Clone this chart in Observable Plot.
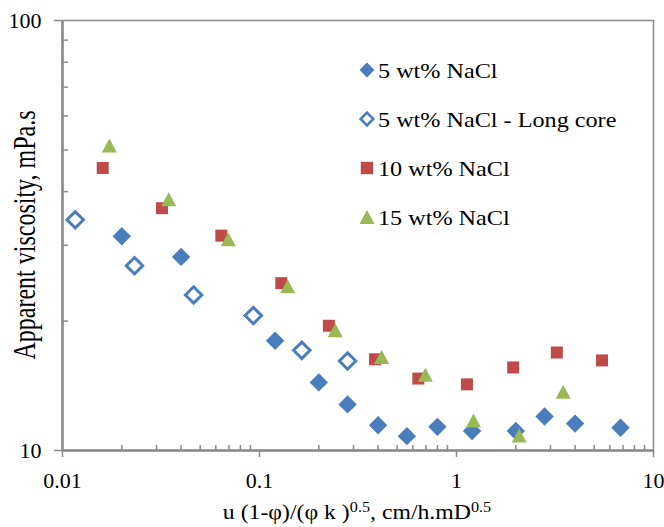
<!DOCTYPE html>
<html><head><meta charset="utf-8">
<script src="https://cdn.jsdelivr.net/npm/d3@7"></script>
<script src="https://cdn.jsdelivr.net/npm/@observablehq/plot@0.6"></script>
<style>
body{margin:0;background:#fff}
svg{font-family:"Liberation Serif","Times New Roman",serif}
</style>
</head><body><div id="chart"></div>
<script>
// ---- data ----
const x5 = [0.02, 0.04, 0.12, 0.2, 0.28, 0.4, 0.56, 0.8, 1.2, 2.0, 2.8, 4.0, 6.8];
const y5 = [31.5, 28.2, 18.0, 14.4, 12.8, 11.45, 10.8, 11.35, 11.1, 11.1, 12.0, 11.55, 11.3];
const xLong = [0.0116, 0.0232, 0.0463, 0.093, 0.164, 0.28];
const yLong = [34.4, 26.9, 23.0, 20.6, 17.1, 16.15];
const x10 = [0.016, 0.032, 0.064, 0.129, 0.225, 0.386, 0.64, 1.13, 1.94, 3.23, 5.48];
const y10 = [45.4, 36.6, 31.6, 24.5, 19.5, 16.3, 14.7, 14.25, 15.6, 16.9, 16.2];
const x15 = [0.0173, 0.0346, 0.0694, 0.139, 0.2425, 0.417, 0.695, 1.22, 2.08, 3.48];
const y15 = [51.2, 38.4, 31.0, 24.1, 19.05, 16.5, 15.0, 11.75, 10.84, 13.7];

const seriesNames = ["5 wt% NaCl", "5 wt% NaCl - Long core", "10 wt% NaCl", "15 wt% NaCl"];
const xDomain = [0.01, 10];
const yDomain = [10, 100];
const xMajor = [0.01, 0.1, 1, 10];
const yMajor = [10, 100];
const xMinor = [0.02,0.03,0.04,0.05,0.06,0.07,0.08,0.09,0.2,0.3,0.4,0.5,0.6,0.7,0.8,0.9,2,3,4,5,6,7,8,9];
const yMinor = [20,30,40,50,60,70,80,90];

const blue = "#4A7EBB", red = "#BE4B48", green = "#98B954", axisGray = "#8A8A8A";

// custom symbols (Plot passes size = r*r*PI)
const diamondSym = {draw(ctx, size){ const h = Math.sqrt(size/Math.PI); ctx.moveTo(0,-h); ctx.lineTo(h,0); ctx.lineTo(0,h); ctx.lineTo(-h,0); ctx.closePath(); }};
const squareSym = {draw(ctx, size){ const h = Math.sqrt(size/Math.PI); ctx.rect(-h,-h,2*h,2*h); }};
const triSym = {draw(ctx, size){ const h = Math.sqrt(size/Math.PI); ctx.moveTo(0,-h); ctx.lineTo(h*1.07,h); ctx.lineTo(-h*1.07,h); ctx.closePath(); }};

const pts = (xs, ys) => xs.map((x, i) => ({x, y: ys[i]}));

const chart = Plot.plot({
  width: 664, height: 527,
  marginLeft: 62, marginRight: 11, marginTop: 20, marginBottom: 77,
  style: {fontFamily: '"Liberation Serif","Times New Roman",serif', background: "#fff"},
  x: {type: "log", domain: xDomain, axis: null},
  y: {type: "log", domain: yDomain, axis: null},
  marks: [
    Plot.frame({stroke: axisGray, strokeWidth: 1.5}),
    // minor ticks (inward)
    Plot.ruleX(xMinor, {x: d => d, y1: yDomain[0], y2: yDomain[0], insetTop: -5, stroke: axisGray, strokeWidth: 1.5}),
    Plot.ruleY(yMinor, {y: d => d, x1: xDomain[0], x2: xDomain[0], insetRight: -6, stroke: axisGray, strokeWidth: 1.5}),
    // major ticks (outward)
    Plot.ruleX(xMajor, {x: d => d, y1: yDomain[0], y2: yDomain[0], insetBottom: -7, stroke: axisGray, strokeWidth: 1.5}),
    Plot.ruleY(yMajor, {y: d => d, x1: xDomain[0], x2: xDomain[0], insetLeft: -8, stroke: axisGray, strokeWidth: 1.5}),
    // axis lines
    Plot.ruleY([yDomain[0]], {stroke: axisGray, strokeWidth: 2.5}),
    Plot.ruleX([xDomain[0]], {stroke: axisGray, strokeWidth: 2.5}),
    // tick labels
    Plot.text(xMajor, {x: d => d, frameAnchor: "bottom", dy: 30, text: d => String(d), fontSize: 22, fill: "#000", textAnchor: "middle", lineAnchor: "middle"}),
    Plot.text(yMajor, {y: d => d, frameAnchor: "left", dx: -21, text: d => String(d), fontSize: 22, fill: "#000", textAnchor: "end", lineAnchor: "middle"}),
    // data
    Plot.dot(pts(x5, y5), {x: "x", y: "y", symbol: diamondSym, r: 9.2, fill: blue, stroke: "none"}),
    Plot.dot(pts(xLong, yLong), {x: "x", y: "y", symbol: diamondSym, r: 8.2, fill: "#fff", stroke: blue, strokeWidth: 3}),
    Plot.dot(pts(x10, y10), {x: "x", y: "y", symbol: squareSym, r: 6, fill: red, stroke: "none"}),
    Plot.dot(pts(x15, y15), {x: "x", y: "y", symbol: triSym, r: 7, fill: green, stroke: "none"})
  ]
});

const svg = d3.select(chart);
// legend
const legend = svg.append("g").attr("text-anchor", "start");
const legItems = [
  {sym: diamondSym, h: 7.5, fill: blue, stroke: "none", sw: 0},
  {sym: diamondSym, h: 6.3, fill: "#fff", stroke: blue, sw: 2.6},
  {sym: squareSym, h: 6.2, fill: red, stroke: "none", sw: 0},
  {sym: triSym, h: 7, fill: green, stroke: "none", sw: 0}
];
legItems.forEach((it, i) => {
  const cy = 70 + i * 49;
  legend.append("path")
    .attr("d", d3.symbol(it.sym, it.h * it.h * Math.PI)())
    .attr("transform", `translate(367,${cy})`)
    .attr("fill", it.fill).attr("stroke", it.stroke).attr("stroke-width", it.sw);
  legend.append("text")
    .attr("transform", `translate(378,${cy + 7.5}) scale(1.1,1)`)
    .attr("text-anchor", "start")
    .attr("font-size", 22).attr("fill", "#000")
    .text(seriesNames[i]);
});

// axis titles
const xt = svg.append("text")
  .attr("transform", "translate(357,519) scale(1.08,1)")
  .attr("text-anchor", "middle")
  .attr("font-size", 22).attr("fill", "#000");
xt.append("tspan").text("u (1-φ)/(φ k )");
xt.append("tspan").attr("dy", -7).attr("font-size", 15).text("0.5");
xt.append("tspan").attr("dy", 7).text(", cm/h.mD");
xt.append("tspan").attr("dy", -7).attr("font-size", 15).text("0.5");

svg.append("text")
  .attr("transform", "translate(35,235) scale(1.3,1) rotate(-90)")
  .attr("text-anchor", "middle").attr("font-size", 24).attr("fill", "#000")
  .text("Apparent viscosity, mPa.s");

document.getElementById("chart").appendChild(chart);
</script>
</body></html>
